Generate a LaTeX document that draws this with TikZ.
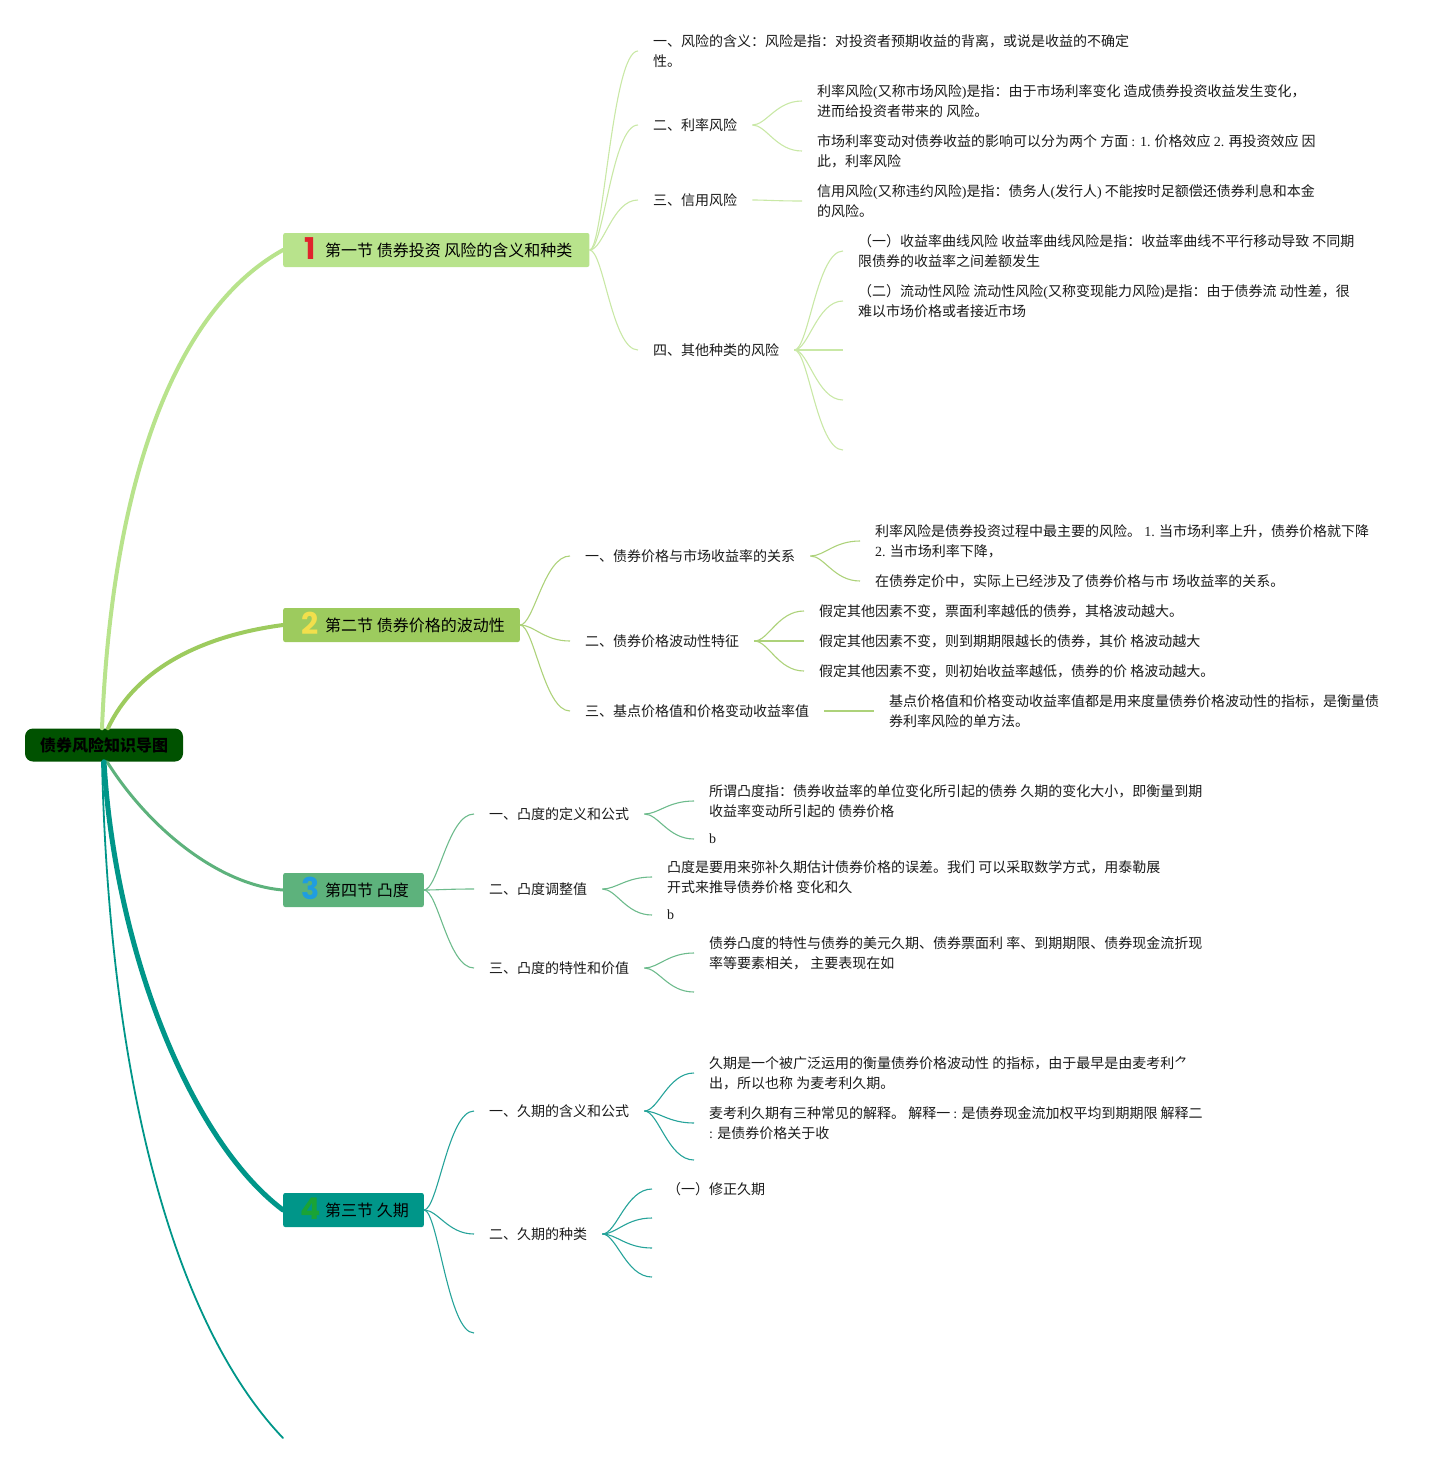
\documentclass[tikz,border=0pt]{standalone}
\usepackage{fontspec}
\setmainfont{Noto Sans CJK SC}
\newfontfamily\lat{Liberation Serif}
\newfontfamily\numfont{Poppins}
\usetikzlibrary{calc}
\definecolor{rootc}{HTML}{005200}
\definecolor{sa}{HTML}{B8E38C}
\definecolor{sb}{HTML}{9DCB5E}
\definecolor{sc}{HTML}{5DB27C}
\definecolor{sd}{HTML}{009689}
\definecolor{la}{HTML}{C9E8A6}
\definecolor{lb}{HTML}{ADD27A}
\definecolor{lc}{HTML}{6DBB8C}
\definecolor{ld}{HTML}{26A39A}
\definecolor{numa}{HTML}{E0242C}
\definecolor{numb}{HTML}{F2DF4C}
\definecolor{numc}{HTML}{209DE0}
\definecolor{numd}{HTML}{1AA336}
\definecolor{txtc}{HTML}{1A1A1A}
\newcommand\hdrnum[2]{\kern19pt\makebox[16pt][c]{\smash{\raisebox{-3pt}{\numfont\bfseries\fontsize{30}{30}\selectfont\color{#1}#2}}}\kern7pt}
\tikzset{
  rootbox/.style={rounded corners=8pt, fill=rootc, minimum width=158pt, minimum height=33pt,
    inner sep=0pt, font=\fontsize{16}{18}\selectfont\bfseries, text=black},
  hdr/.style={anchor=west, minimum height=34pt, inner xsep=0pt, inner ysep=0pt,
    rounded corners=2pt, font=\fontsize{16}{18}\selectfont, text=black},
  txt/.style={anchor=west, inner xsep=15pt, inner ysep=0pt, align=left,
    font=\fontsize{14}{20}\selectfont, text=txtc},
  conn/.style={line width=1.1pt, to path={.. controls ($(\tikztostart)+(14,0)$) and ($(\tikztotarget)+(-26,0)$) .. (\tikztotarget)}},
  trunk/.style={line width=#1, line cap=round},
}
\begin{document}
\begin{tikzpicture}[x=1pt,y=-1pt]
\useasboundingbox (0,0) rectangle (1449,1464);

% root and section headers
\node[rootbox] (root) at (104,745) {债券风险知识导图};
\node[hdr, fill=sa] (s1) at (283,250) {\hdrnum{numa}{1}第一节 债券投资 风险的含义和种类\kern17pt};
\node[hdr, fill=sb] (s2) at (283,625) {\hdrnum{numb}{2}第二节 债券价格的波动性\kern15pt};
\node[hdr, fill=sc] (s3) at (283,890) {\hdrnum{numc}{3}第四节 凸度\kern15pt};
\node[hdr, fill=sd] (s4) at (283,1210) {\hdrnum{numd}{4}第三节 久期\kern15pt};
\coordinate (tail) at (283,1438);

% trunk connectors
\draw[trunk=4pt, sa] ([xshift=-2pt]root.north) .. controls (112,480) and (175,310) .. (s1.west);
\draw[trunk=4pt, sb] ([xshift=4pt]root.north) .. controls (135,670) and (200,636) .. (s2.west);
\draw[trunk=3pt, sc] ([xshift=3pt]root.south) .. controls (150,830) and (220,885) .. (s3.west);
\draw[trunk=5pt, sd] (root.south) .. controls (115,950) and (190,1140) .. (s4.west);
\draw[trunk=1.8pt, sd] ([xshift=-2pt]root.south) .. controls (110,1100) and (180,1330) .. (tail);

% ---------- section 1 ----------
\node[txt] (c11) at (638,51) {一、风险的含义：风险是指：对投资者预期收益的背离，或说是收益的不确定\\性。};
\node[txt] (c12) at (638,125) {二、利率风险};
\node[txt] (c13) at (638,200) {三、信用风险};
\node[txt] (c14) at (638,350) {四、其他种类的风险};
\node[txt] (l121) at (802,101) {利率风险{\lat(}又称市场风险{\lat)}是指：由于市场利率变化 造成债券投资收益发生变化，\\进而给投资者带来的 风险。};
\node[txt] (l122) at (802,151) {市场利率变动对债券收益的影响可以分为两个 方面 {\lat: 1.} 价格效应 {\lat 2.} 再投资效应 因\\此，利率风险};
\node[txt] (l131) at (802,201) {信用风险{\lat(}又称违约风险{\lat)}是指：债务人{\lat(}发行人{\lat)} 不能按时足额偿还债券利息和本金\\的风险。};
\node[txt] (l141) at (843,251) {（一）收益率曲线风险 收益率曲线风险是指：收益率曲线不平行移动导致 不同期\\限债券的收益率之间差额发生};
\node[txt] (l142) at (843,301) {（二）流动性风险 流动性风险{\lat(}又称变现能力风险{\lat)}是指：由于债券流 动性差，很\\难以市场价格或者接近市场};
\coordinate (e143) at (843,350);
\coordinate (e144) at (843,400);
\coordinate (e145) at (843,450);

\foreach \t in {c11,c12,c13,c14} \draw[conn, la] (s1.east) to (\t.west);
\draw[conn, la] (c12.east) to (l121.west);
\draw[conn, la] (c12.east) to (l122.west);
\draw[conn, la] (c13.east) to (l131.west);
\draw[conn, la] (c14.east) to (l141.west);
\draw[conn, la] (c14.east) to (l142.west);
\foreach \t in {e143,e144,e145} \draw[conn, la] (c14.east) to (\t);

% ---------- section 2 ----------
\node[txt] (c21) at (570,556) {一、债券价格与市场收益率的关系};
\node[txt] (c22) at (570,641) {二、债券价格波动性特征};
\node[txt] (c23) at (570,711) {三、基点价格值和价格变动收益率值};
\node[txt] (l211) at (860,541) {利率风险是债券投资过程中最主要的风险。 {\lat 1.} 当市场利率上升，债券价格就下降\\{\lat 2.} 当市场利率下降，};
\node[txt] (l212) at (860,581) {在债券定价中，实际上已经涉及了债券价格与市 场收益率的关系。};
\node[txt] (l221) at (804,611) {假定其他因素不变，票面利率越低的债券，其格波动越大。};
\node[txt] (l222) at (804,641) {假定其他因素不变，则到期期限越长的债券，其价 格波动越大};
\node[txt] (l223) at (804,671) {假定其他因素不变，则初始收益率越低，债券的价 格波动越大。};
\node[txt] (l231) at (874,711) {基点价格值和价格变动收益率值都是用来度量债券价格波动性的指标，是衡量债\\券利率风险的单方法。};

\foreach \t in {c21,c22,c23} \draw[conn, lb] (s2.east) to (\t.west);
\draw[conn, lb] (c21.east) to (l211.west);
\draw[conn, lb] (c21.east) to (l212.west);
\foreach \t in {l221,l222,l223} \draw[conn, lb] (c22.east) to (\t.west);
\draw[conn, lb] (c23.east) to (l231.west);

% ---------- section 3 ----------
\node[txt] (c31) at (474,814) {一、凸度的定义和公式};
\node[txt] (c32) at (474,889) {二、凸度调整值};
\node[txt] (c33) at (474,968) {三、凸度的特性和价值};
\node[txt] (l311) at (694,801) {所谓凸度指：债券收益率的单位变化所引起的债券 久期的变化大小，即衡量到期\\收益率变动所引起的 债券价格};
\node[txt] (l312) at (694,839) {\lat b};
\node[txt] (l321) at (652,877) {凸度是要用来弥补久期估计债券价格的误差。我们 可以采取数学方式，用泰勒展\\开式来推导债券价格 变化和久};
\node[txt] (l322) at (652,915) {\lat b};
\node[txt] (l331) at (694,953) {债券凸度的特性与债券的美元久期、债券票面利 率、到期期限、债券现金流折现\\率等要素相关， 主要表现在如};
\coordinate (e332) at (694,992);

\foreach \t in {c31,c32,c33} \draw[conn, lc] (s3.east) to (\t.west);
\draw[conn, lc] (c31.east) to (l311.west);
\draw[conn, lc] (c31.east) to (l312.west);
\draw[conn, lc] (c32.east) to (l321.west);
\draw[conn, lc] (c32.east) to (l322.west);
\draw[conn, lc] (c33.east) to (l331.west);
\draw[conn, lc] (c33.east) to (e332);

% ---------- section 4 ----------
\node[txt] (c41) at (474,1111) {一、久期的含义和公式};
\node[txt] (c42) at (474,1234) {二、久期的种类};
\coordinate (e43) at (474,1333);
\node[txt] (l411) at (694,1073) {久期是一个被广泛运用的衡量债券价格波动性 的指标，由于最早是由麦考利⺈\\出，所以也称 为麦考利久期。};
\node[txt] (l412) at (694,1123) {麦考利久期有三种常见的解释。 解释一 {\lat:} 是债券现金流加权平均到期期限 解释二\\{\lat:} 是债券价格关于收};
\coordinate (e413) at (694,1160);
\node[txt] (l421) at (652,1189) {（一）修正久期};
\coordinate (e422) at (652,1218);
\coordinate (e423) at (652,1248);
\coordinate (e424) at (652,1277);

\draw[conn, ld] (s4.east) to (c41.west);
\draw[conn, ld] (s4.east) to (c42.west);
\draw[conn, ld] (s4.east) to (e43);
\draw[conn, ld] (c41.east) to (l411.west);
\draw[conn, ld] (c41.east) to (l412.west);
\draw[conn, ld] (c41.east) to (e413);
\draw[conn, ld] (c42.east) to (l421.west);
\foreach \t in {e422,e423,e424} \draw[conn, ld] (c42.east) to (\t);
\end{tikzpicture}
\end{document}
